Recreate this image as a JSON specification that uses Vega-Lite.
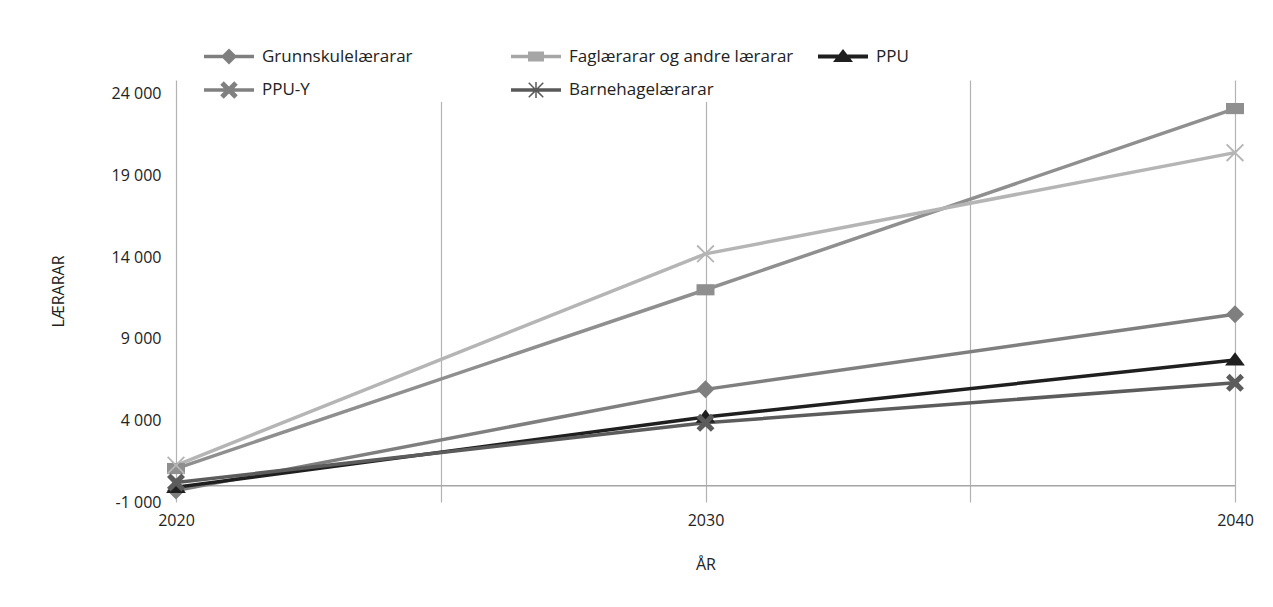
{
  "$schema": "https://vega.github.io/schema/vega-lite/v6.json",
  "autosize": "none",
  "width": 1059,
  "height": 422,
  "padding": {"left": 176, "top": 80, "right": 38, "bottom": 105},
  "background": "white",
  "config": {"view": {"stroke": null}, "font": "Open Sans"},
  "data": {"values": [
    {"series": "Grunnskulelærarar", "year": 2020, "value": -300},
    {"series": "Grunnskulelærarar", "year": 2030, "value": 5900},
    {"series": "Grunnskulelærarar", "year": 2040, "value": 10500},
    {"series": "Faglærarar og andre lærarar", "year": 2020, "value": 1050},
    {"series": "Faglærarar og andre lærarar", "year": 2030, "value": 12000},
    {"series": "Faglærarar og andre lærarar", "year": 2040, "value": 23100},
    {"series": "PPU", "year": 2020, "value": -100},
    {"series": "PPU", "year": 2030, "value": 4200},
    {"series": "PPU", "year": 2040, "value": 7700},
    {"series": "PPU-Y", "year": 2020, "value": 200},
    {"series": "PPU-Y", "year": 2030, "value": 3850},
    {"series": "PPU-Y", "year": 2040, "value": 6300},
    {"series": "Barnehagelærarar", "year": 2020, "value": 1250},
    {"series": "Barnehagelærarar", "year": 2030, "value": 14200},
    {"series": "Barnehagelærarar", "year": 2040, "value": 20400}
  ]},
  "resolve": {"scale": {"shape": "independent", "color": "independent"}},
  "layer": [
    {
      "data": {"values": [{}]},
      "mark": {"type": "rule", "color": "#a6a6a6", "strokeWidth": 1.5},
      "encoding": {"y": {"datum": 0, "type": "quantitative"}}
    },
    {
      "mark": {"type": "line", "strokeWidth": 3.5},
      "encoding": {
        "x": {"field": "year", "type": "quantitative",
          "scale": {"domain": [2020, 2040], "nice": false, "zero": false},
          "axis": {"values": [2020, 2025, 2030, 2035, 2040],
            "labelExpr": "datum.value % 10 === 0 ? '' + datum.value : ''",
            "grid": true, "gridColor": "#b3b3b3", "gridWidth": 1.2,
            "domain": false, "ticks": false, "labelFlush": false,
            "labelPadding": 10, "labelFontSize": 16, "labelColor": "#222",
            "title": "ÅR", "titleFontSize": 16, "titleFontWeight": "normal",
            "titlePadding": 28, "titleColor": "#222"}},
        "y": {"field": "value", "type": "quantitative",
          "scale": {"domain": [-1000, 24850], "nice": false, "zero": false},
          "axis": {"values": [-1000, 4000, 9000, 14000, 19000, 24000],
            "labelExpr": "(datum.value < 0 ? '-' : '') + replace(format(abs(datum.value), ','), ',', ' ')",
            "grid": false, "domain": false, "ticks": false, "labelFlush": false,
            "labelPadding": 15, "labelFontSize": 16, "labelColor": "#222",
            "title": "LÆRARAR", "titleFontSize": 16, "titleFontWeight": "normal",
            "titlePadding": 45, "titleColor": "#222"}},
        "color": {"field": "series", "type": "nominal",
          "scale": {"domain": ["Grunnskulelærarar", "Faglærarar og andre lærarar", "PPU", "PPU-Y", "Barnehagelærarar"],
            "range": ["#7f7f7f", "#8f8f8f", "#1f1f1f", "#5c5c5c", "#b5b5b5"]},
          "legend": null}
      }
    },
    {
      "mark": {"type": "point", "filled": true, "opacity": 1, "strokeWidth": 0},
      "encoding": {
        "x": {"field": "year", "type": "quantitative"},
        "y": {"field": "value", "type": "quantitative"},
        "color": {"field": "series", "type": "nominal",
          "scale": {"domain": ["Grunnskulelærarar", "Faglærarar og andre lærarar", "PPU", "PPU-Y", "Barnehagelærarar"],
            "range": ["#7f7f7f", "#8f8f8f", "#1f1f1f", "#5c5c5c", "#b5b5b5"]},
          "legend": null},
        "shape": {"field": "series", "type": "nominal",
          "scale": {"domain": ["Grunnskulelærarar", "Faglærarar og andre lærarar", "PPU", "PPU-Y", "Barnehagelærarar"],
            "range": [
              "M0,-1L1,0L0,1L-1,0Z",
              "M-1,-0.62H1V0.62H-1Z",
              "M0,-0.85L1.1,0.62L-1.1,0.62Z",
              "M0.6,-1L1,-0.6L0.4,0L1,0.6L0.6,1L0,0.4L-0.6,1L-1,0.6L-0.4,0L-1,-0.6L-0.6,-1L0,-0.4Z",
              "M0.856,-1L1,-0.856L0.149,0L1,0.856L0.856,1L0,0.149L-0.856,1L-1,0.856L-0.149,0L-1,-0.856L-0.856,-1L0,-0.149Z"
            ]},
          "legend": null},
        "size": {"value": 324}
      }
    },
    {
      "mark": {"type": "point", "filled": true, "opacity": 0, "strokeWidth": 0},
      "encoding": {
        "x": {"field": "year", "type": "quantitative"},
        "y": {"field": "value", "type": "quantitative"},
        "color": {"field": "series", "type": "nominal",
          "scale": {"domain": ["Grunnskulelærarar", "Faglærarar og andre lærarar", "PPU", "PPU-Y", "Barnehagelærarar"],
            "range": ["#7f7f7f", "#a6a6a6", "#1f1f1f", "#808080", "#595959"]},
          "legend": {"orient": "none", "direction": "horizontal", "legendX": 25, "legendY": -52, "columns": 3,
            "gridAlign": "all", "columnPadding": 24, "rowPadding": 0,
            "symbolSize": 2500, "symbolStrokeWidth": 0, "symbolOpacity": 1,
            "labelFontSize": 17, "labelOffset": 8, "labelColor": "#222", "labelLimit": 400,
            "title": null, "fillColor": "white", "padding": 3,
            "encode": {"symbols": {"update": {"opacity": {"value": 1}}}}}},
        "shape": {"field": "series", "type": "nominal",
          "scale": {"domain": ["Grunnskulelærarar", "Faglærarar og andre lærarar", "PPU", "PPU-Y", "Barnehagelærarar"],
            "range": [
              "M-1,-0.07H1V0.07H-1Z M0,-0.32L0.32,0L0,0.32L-0.32,0Z",
              "M-1,-0.07H1V0.07H-1Z M-0.32,-0.2H0.32V0.2H-0.32Z",
              "M-1,-0.08H1V0.08H-1Z M0,-0.3L0.4,0.22L-0.4,0.22Z",
              "M-1,-0.07H1V0.07H-1Z M0.21,-0.35L0.35,-0.21L0.14,0L0.35,0.21L0.21,0.35L0,0.14L-0.21,0.35L-0.35,0.21L-0.14,0L-0.35,-0.21L-0.21,-0.35L0,-0.14Z",
              "M-1,-0.07H1V0.07H-1Z M0.27,-0.31L0.31,-0.27L0.045,0L0.31,0.27L0.27,0.31L0,0.045L-0.27,0.31L-0.31,0.27L-0.045,0L-0.31,-0.27L-0.27,-0.31L0,-0.045Z M-0.03,-0.32H0.03V0.32H-0.03Z"
            ]},
          "legend": {"orient": "none", "direction": "horizontal", "legendX": 25, "legendY": -52, "columns": 3,
            "gridAlign": "all", "columnPadding": 24, "rowPadding": 0,
            "symbolSize": 2500, "symbolStrokeWidth": 0, "symbolOpacity": 1,
            "labelFontSize": 17, "labelOffset": 8, "labelColor": "#222", "labelLimit": 400,
            "title": null, "fillColor": "white", "padding": 3,
            "encode": {"symbols": {"update": {"opacity": {"value": 1}}}}}},
        "size": {"value": 2500}
      }
    }
  ]
}
